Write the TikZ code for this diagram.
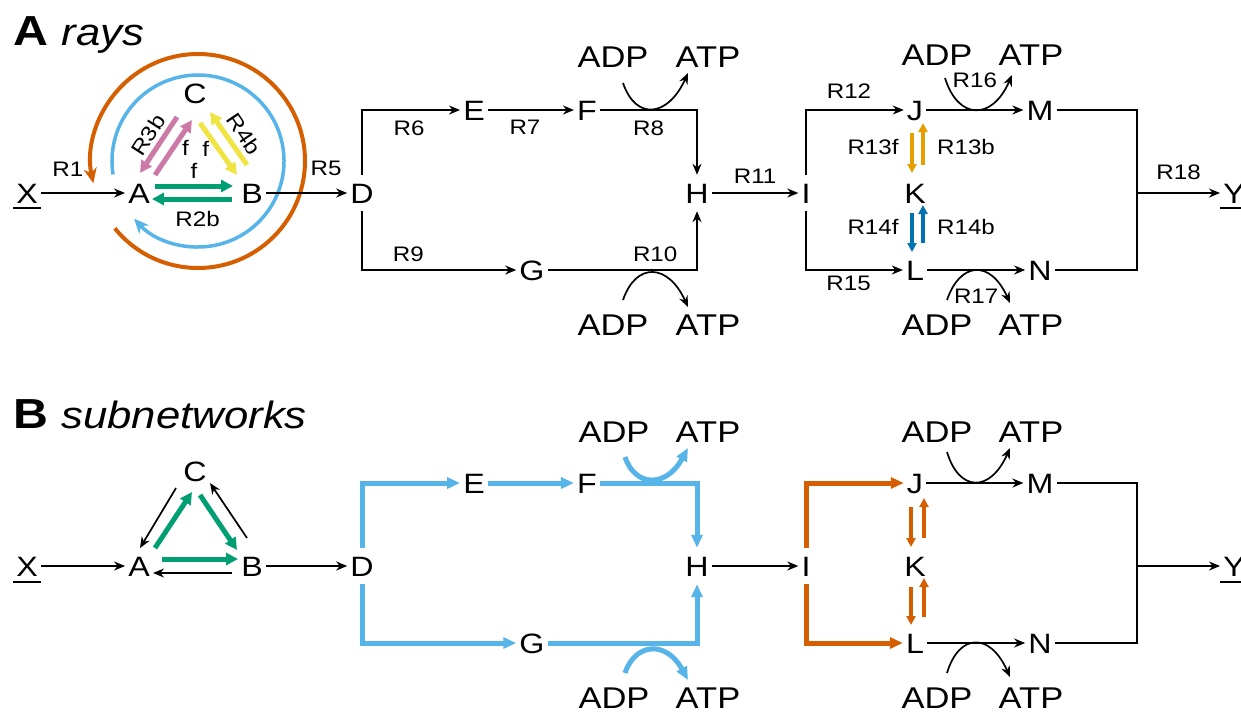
\documentclass[tikz,border=0pt]{standalone}
\usepackage{fontspec}
\setmainfont{Liberation Sans}[FakeStretch=1.15]
\usetikzlibrary{arrows.meta, positioning, calc}
\definecolor{vermil}{HTML}{D55E00}
\definecolor{skyblue}{HTML}{56B4E9}
\definecolor{bluegreen}{HTML}{009E73}
\definecolor{redpurple}{HTML}{CC79A7}
\definecolor{yellowok}{HTML}{F0E442}
\definecolor{orangeok}{HTML}{E69F00}
\definecolor{blueok}{HTML}{0072B2}

\begin{document}
\begin{tikzpicture}[
    x=1pt, y=1pt, >={Stealth[length=11pt, width=9pt]},
    met/.style={font=\fontsize{28}{30}\selectfont, text height=20pt,
                text depth=0pt, inner xsep=3pt, inner ysep=8pt},
    cof/.style={font=\fontsize{30}{32}\selectfont, inner sep=1pt},
    rxn/.style={font=\fontsize{21}{23}\selectfont, inner sep=1pt, text=black},
    flow/.style={->, line width=1.7pt},
    wire/.style={line width=1.7pt},
    fat/.style={line width=5pt, -{Triangle[length=12pt, width=12pt]}},
    slim/.style={line width=3.5pt, -{Triangle[length=9pt, width=9pt]}},
    sub/.style={line width=5pt, -{Triangle[length=13pt, width=11pt]}},
    rayline/.style={line width=3.5pt, -{Stealth[length=15pt, width=13pt]}},
    paneltitle/.style={font=\fontsize{42}{46}\selectfont, anchor=base west,
                       inner sep=0pt}
  ]
  \useasboundingbox (0,0) rectangle (1241,-713);

  % ---------------- A: rays ----------------
  \node[paneltitle] (titleA) at (13,-45)
    {\textbf{A} {\fontsize{38}{42}\selectfont\itshape rays}};

  \coordinate (hub1) at (198,-161);
  \draw[rayline, vermil, line width=4pt] ([shift={(219:107)}]hub1)
    arc[start angle=219, end angle=552, radius=107];
  \draw[rayline, skyblue] ([shift={(189:86)}]hub1)
    arc[start angle=189, end angle=-138, radius=86];

  \node[met] (x1) at (27,-193) {X};
  \node[met] (a1) at (139,-193) {A};
  \node[met] (b1) at (252,-193) {B};
  \node[met] (c1) at (195,-93) {C};
  \node[met] (d1) at (362,-193) {D};
  \node[met] (e1) at (474,-110) {E};
  \node[met] (f1) at (587,-110) {F};
  \node[met] (g1) at (532,-270) {G};
  \node[met] (h1) at (697,-193) {H};
  \node[met] (i1) at (806,-193) {I};
  \node[met] (j1) at (915,-110) {J};
  \node[met] (k1) at (915,-193) {K};
  \node[met] (l1) at (915,-270) {L};
  \node[met] (m1) at (1040,-110) {M};
  \node[met] (n1) at (1040,-270) {N};
  \node[met] (y1) at (1234,-193) {Y};
  \coordinate (join1) at (1137,-193);
  \draw[wire] ([yshift=-5pt]x1.base west) -- ([yshift=-5pt]x1.base east);
  \draw[wire] ([yshift=-5pt]y1.base west) -- ([yshift=-5pt]y1.base east);

  \node[cof] (adp8) at (613,-57) {ADP};
  \node[cof] (atp8) at (708,-57) {ATP};
  \node[cof] (adp10) at (613,-325) {ADP};
  \node[cof] (atp10) at (708,-325) {ATP};
  \node[cof] (adp16) at (937,-55) {ADP};
  \node[cof] (atp16) at (1031,-55) {ATP};
  \node[cof] (adp17) at (937,-325) {ADP};
  \node[cof] (atp17) at (1031,-325) {ATP};

  \draw[flow] (x1) -- node[rxn, above=15pt, pos=0.32] (lr1) {R1} (a1);
  \draw[flow] (b1) -- node[rxn, above=15pt, pos=0.74] (lr5) {R5} (d1);

  % triangle A-B-C
  \draw[fat, bluegreen] ([shift={(16,7)}]a1.center)
    -- node[rxn, above=4pt] (lf2) {f} ([shift={(-19,7)}]b1.center);
  \draw[fat, bluegreen] ([shift={(-20,-6)}]b1.center)
    -- node[rxn, below=9pt, pos=0.43] (lr2b) {R2b} ([shift={(13,-6)}]a1.center);
  \draw[fat, redpurple] ([shift={(16,18)}]a1.center)
    -- node[rxn, right=5pt] (lf3) {f} ([shift={(-3,-27)}]c1.center);
  \draw[fat, redpurple] ([shift={(-18,-24)}]c1.center) -- ([shift={(1,20)}]a1.center);
  \draw[fat, yellowok] ([shift={(5,-30)}]c1.center)
    -- node[rxn, left=6pt] (lf4) {f} ([shift={(-15,18)}]b1.center);
  \draw[fat, yellowok] ([shift={(-5,28)}]b1.center) -- ([shift={(15,-19)}]c1.center);
  \node[rxn, rotate=57] (lr3b) at (148,-135) {R3b};
  \node[rxn, rotate=-56] (lr4b) at (244,-134) {R4b};

  % upper and lower branch
  \draw[flow] (d1) |- node[rxn, below=8.5pt, pos=0.74] (lr6) {R6} (e1);
  \draw[flow] (e1) -- node[rxn, below=8.5pt, pos=0.43] (lr7) {R7} (f1);
  \draw[flow] (f1) -| node[rxn, below=8.5pt, pos=0.25] (lr8) {R8} (h1);
  \draw[flow] (d1) |- node[rxn, above=6.5pt, pos=0.65] (lr9) {R9} (g1);
  \draw[flow] (g1) -| node[rxn, above=6.5pt, pos=0.36] (lr10) {R10} (h1);
  \draw[flow] ([shift={(10,-26)}]adp8.center) .. controls +(13,-38) and +(-20,-44)
    .. ([shift={(-20,-16)}]atp8.center);
  \draw[flow] ([shift={(10,25)}]adp10.center) .. controls +(13,38) and +(-20,44)
    .. ([shift={(-20,18)}]atp10.center);
  \draw[flow] (h1) -- node[rxn, above=7.5pt] (lr11) {R11} (i1);

  \draw[flow] (i1) |- node[rxn, above=9.5pt, pos=0.72] (lr12) {R12} (j1);
  \draw[flow] (i1) |- node[rxn, below=4.5pt, pos=0.72] (lr15) {R15} (l1);
  \draw[slim, orangeok] ([shift={(-3,-23)}]j1.center) -- ([shift={(-3,20)}]k1.center);
  \draw[slim, orangeok] ([shift={(8,28)}]k1.center) -- ([shift={(8,-13)}]j1.center);
  \draw[slim, blueok] ([shift={(-3,-20)}]k1.center) -- ([shift={(-3,18)}]l1.center);
  \draw[slim, blueok] ([shift={(8,27)}]l1.center) -- ([shift={(8,-12)}]k1.center);
  \node[rxn] (lr13f) at (873,-147) {R13f};
  \node[rxn] (lr13b) at (966,-147) {R13b};
  \node[rxn] (lr14f) at (873,-227) {R14f};
  \node[rxn] (lr14b) at (966,-227) {R14b};

  \draw[flow] (j1) -- node[rxn, above=20pt] (lr16) {R16} (m1);
  \draw[flow] (l1) -- node[rxn, below=17pt] (lr17) {R17} (n1);
  \draw[flow] ([shift={(8,-23)}]adp16.center) .. controls +(13,-42) and +(-20,-46)
    .. ([shift={(-19,-20)}]atp16.center);
  \draw[flow] ([shift={(10,25)}]adp17.center) .. controls +(13,38) and +(-20,44)
    .. ([shift={(-21,22)}]atp17.center);
  \draw[wire] (m1) -| (join1) |- (n1);
  \draw[flow] (join1) -- node[rxn, above=11pt] (lr18) {R18} (y1);

  % ---------------- B: subnetworks ----------------
  \node[paneltitle] (titleB) at (13,-428)
    {\textbf{B} {\fontsize{38}{42}\selectfont\itshape subnetworks}};

  \node[met] (x2) at (27,-566) {X};
  \node[met] (a2) at (139,-566) {A};
  \node[met] (b2) at (252,-566) {B};
  \node[met] (c2) at (195,-471) {C};
  \node[met] (d2) at (362,-566) {D};
  \node[met] (e2) at (474,-483) {E};
  \node[met] (f2) at (587,-483) {F};
  \node[met] (g2) at (532,-643) {G};
  \node[met] (h2) at (697,-566) {H};
  \node[met] (i2) at (806,-566) {I};
  \node[met] (j2) at (915,-483) {J};
  \node[met] (k2) at (915,-566) {K};
  \node[met] (l2) at (915,-643) {L};
  \node[met] (m2) at (1040,-483) {M};
  \node[met] (n2) at (1040,-643) {N};
  \node[met] (y2) at (1234,-566) {Y};
  \coordinate (join2) at (1137,-566);
  \draw[wire] ([yshift=-6pt]x2.base west) -- ([yshift=-6pt]x2.base east);
  \draw[wire] ([yshift=-6pt]y2.base west) -- ([yshift=-6pt]y2.base east);

  \node[cof] (adp8b) at (614,-432) {ADP};
  \node[cof] (atp8b) at (708,-432) {ATP};
  \node[cof] (adp10b) at (614,-698) {ADP};
  \node[cof] (atp10b) at (708,-698) {ATP};
  \node[cof] (adp16b) at (937,-432) {ADP};
  \node[cof] (atp16b) at (1031,-432) {ATP};
  \node[cof] (adp17b) at (937,-698) {ADP};
  \node[cof] (atp17b) at (1031,-698) {ATP};

  \draw[flow] (x2) -- (a2);
  \draw[flow] (b2) -- (d2);
  \draw[fat, bluegreen] ([shift={(16,18)}]a2.center) -- ([shift={(-3,-21)}]c2.center);
  \draw[fat, bluegreen] ([shift={(5,-24)}]c2.center) -- ([shift={(-15,16)}]b2.center);
  \draw[fat, bluegreen] ([shift={(23,7)}]a2.center) -- ([shift={(-14,7)}]b2.center);
  \draw[flow] ([shift={(-20,-7)}]b2.center) -- ([shift={(14,-7)}]a2.center);
  \draw[flow] ([shift={(-19,-17)}]c2.center) -- ([shift={(1,18)}]a2.center);
  \draw[flow] ([shift={(-5,28)}]b2.center) -- ([shift={(15,-12)}]c2.center);

  \draw[sub, skyblue] (d2) |- (e2);
  \draw[sub, skyblue] (e2) -- (f2);
  \draw[sub, skyblue] (f2) -| (h2);
  \draw[sub, skyblue] (d2) |- (g2);
  \draw[sub, skyblue] (g2) -| (h2);
  \draw[sub, skyblue] ([shift={(11,-25)}]adp8b.center) .. controls +(10,-30) and +(-22,-40)
    .. ([shift={(-20,-16)}]atp8b.center);
  \draw[sub, skyblue] ([shift={(11,25)}]adp10b.center) .. controls +(10,30) and +(-22,40)
    .. ([shift={(-20,18)}]atp10b.center);

  \draw[flow] (h2) -- (i2);
  \draw[sub, vermil] (i2) |- (j2);
  \draw[sub, vermil] (i2) |- (l2);
  \draw[slim, vermil] ([shift={(-4,-24)}]j2.center) -- ([shift={(-4,19)}]k2.center);
  \draw[slim, vermil] ([shift={(9,28)}]k2.center) -- ([shift={(9,-15)}]j2.center);
  \draw[slim, vermil] ([shift={(-4,-21)}]k2.center) -- ([shift={(-4,18)}]l2.center);
  \draw[slim, vermil] ([shift={(9,26)}]l2.center) -- ([shift={(9,-12)}]k2.center);

  \draw[flow] (j2) -- (m2);
  \draw[flow] (l2) -- (n2);
  \draw[flow] ([shift={(10,-20)}]adp16b.center) .. controls +(12,-40) and +(-20,-45)
    .. ([shift={(-21,-16)}]atp16b.center);
  \draw[flow] ([shift={(10,25)}]adp17b.center) .. controls +(12,40) and +(-20,45)
    .. ([shift={(-21,21)}]atp17b.center);
  \draw[wire] (m2) -| (join2) |- (n2);
  \draw[flow] (join2) -- (y2);
\end{tikzpicture}
\end{document}
